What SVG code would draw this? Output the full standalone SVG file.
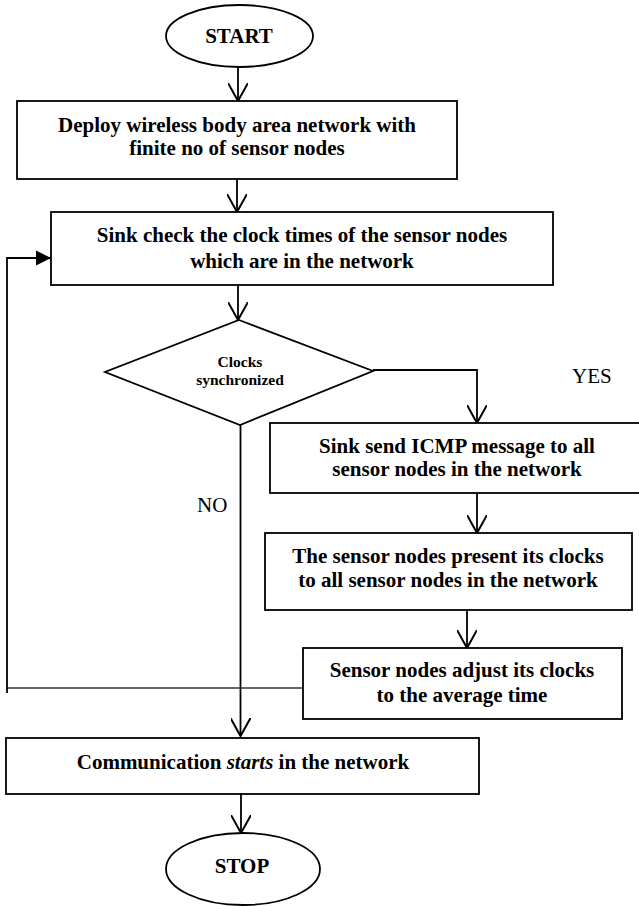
<svg xmlns="http://www.w3.org/2000/svg" width="639" height="906" viewBox="0 0 639 906">
<defs>
<style>
.box{fill:#fff;stroke:#000;stroke-width:1.8}
.t{font-family:"Liberation Serif","Times New Roman",serif;font-size:21px;font-weight:bold;fill:#000;text-anchor:middle}
.lbl{font-family:"Liberation Serif","Times New Roman",serif;font-size:21px;fill:#000}
.dt{font-family:"Liberation Serif","Times New Roman",serif;font-size:15.5px;font-weight:bold;fill:#000;text-anchor:middle}
.ln{fill:none;stroke:#000;stroke-width:1.8}
.thin{fill:none;stroke:#333;stroke-width:1.3}
</style>
<marker id="open" viewBox="0 0 20 20" refX="18" refY="10" markerWidth="20" markerHeight="20" markerUnits="userSpaceOnUse" orient="auto">
<path d="M0,0 L18,10 L0,20" fill="none" stroke="#000" stroke-width="2"/>
</marker>
<marker id="solid" viewBox="0 0 16 16" refX="15" refY="8" markerWidth="16" markerHeight="16" markerUnits="userSpaceOnUse" orient="auto">
<path d="M0,0.5 L15,8 L0,15.5 Z" fill="#000"/>
</marker>
</defs>
<rect width="639" height="906" fill="#fff"/>
<g id="connectors">
<line class="ln" x1="238" y1="67" x2="238" y2="101" marker-end="url(#open)"/>
<line class="ln" x1="237" y1="179" x2="237" y2="212" marker-end="url(#open)"/>
<line class="ln" x1="238" y1="285" x2="238" y2="320" marker-end="url(#open)"/>
<path class="ln" d="M373,370 H477 V423" marker-end="url(#open)"/>
<line class="ln" x1="477" y1="493" x2="477" y2="533" marker-end="url(#open)"/>
<line class="ln" x1="467" y1="610" x2="467" y2="648" marker-end="url(#open)"/>
<line class="ln" x1="240.5" y1="425" x2="240.5" y2="736" marker-end="url(#open)"/>
<line class="ln" x1="241" y1="794" x2="241" y2="833" marker-end="url(#open)"/>
<line class="thin" x1="7" y1="688" x2="303" y2="688"/>
<line class="ln" x1="7" y1="693" x2="7" y2="258"/>
<line class="ln" x1="6.1" y1="258" x2="51" y2="258" marker-end="url(#solid)"/>
<text class="lbl" x="572" y="383">YES</text>
<text class="lbl" x="197" y="512">NO</text>
</g>
<g id="start">
<ellipse class="box" cx="239.5" cy="36" rx="73.5" ry="31"/>
<text class="t" x="239" y="43">START</text>
</g>
<g id="deploy">
<rect class="box" x="17" y="101" width="440" height="78"/>
<text class="t" x="237" y="132">Deploy wireless body area network with</text>
<text class="t" x="237" y="155">finite no of sensor nodes</text>
</g>
<g id="check">
<rect class="box" x="51" y="212" width="502" height="73"/>
<text class="t" x="302" y="242">Sink check the clock times of the sensor nodes</text>
<text class="t" x="302" y="268">which are in the network</text>
</g>
<g id="decision">
<polygon class="box" points="239,320 373,371 240,425 105,372"/>
<text class="dt" x="240" y="367">Clocks</text>
<text class="dt" x="240" y="385">synchronized</text>
</g>
<g id="icmp">
<rect class="box" x="270" y="423" width="380" height="70"/>
<text class="t" x="457" y="453">Sink send ICMP message to all</text>
<text class="t" x="457" y="476">sensor nodes in the network</text>
</g>
<g id="present">
<rect class="box" x="265" y="533" width="367" height="77"/>
<text class="t" x="448" y="563">The sensor nodes present its clocks</text>
<text class="t" x="448" y="587">to all sensor nodes in the network</text>
</g>
<g id="adjust">
<rect class="box" x="303" y="648" width="319" height="71"/>
<text class="t" x="462" y="677">Sensor nodes adjust its clocks</text>
<text class="t" x="462" y="702">to the average time</text>
</g>
<g id="communication">
<rect class="box" x="6" y="738" width="473" height="56"/>
<text class="t" x="243" y="769">Communication <tspan font-style="italic">starts</tspan> in the network</text>
</g>
<g id="stop">
<ellipse class="box" cx="243" cy="869" rx="77" ry="36"/>
<text class="t" x="242" y="873">STOP</text>
</g>
</svg>
